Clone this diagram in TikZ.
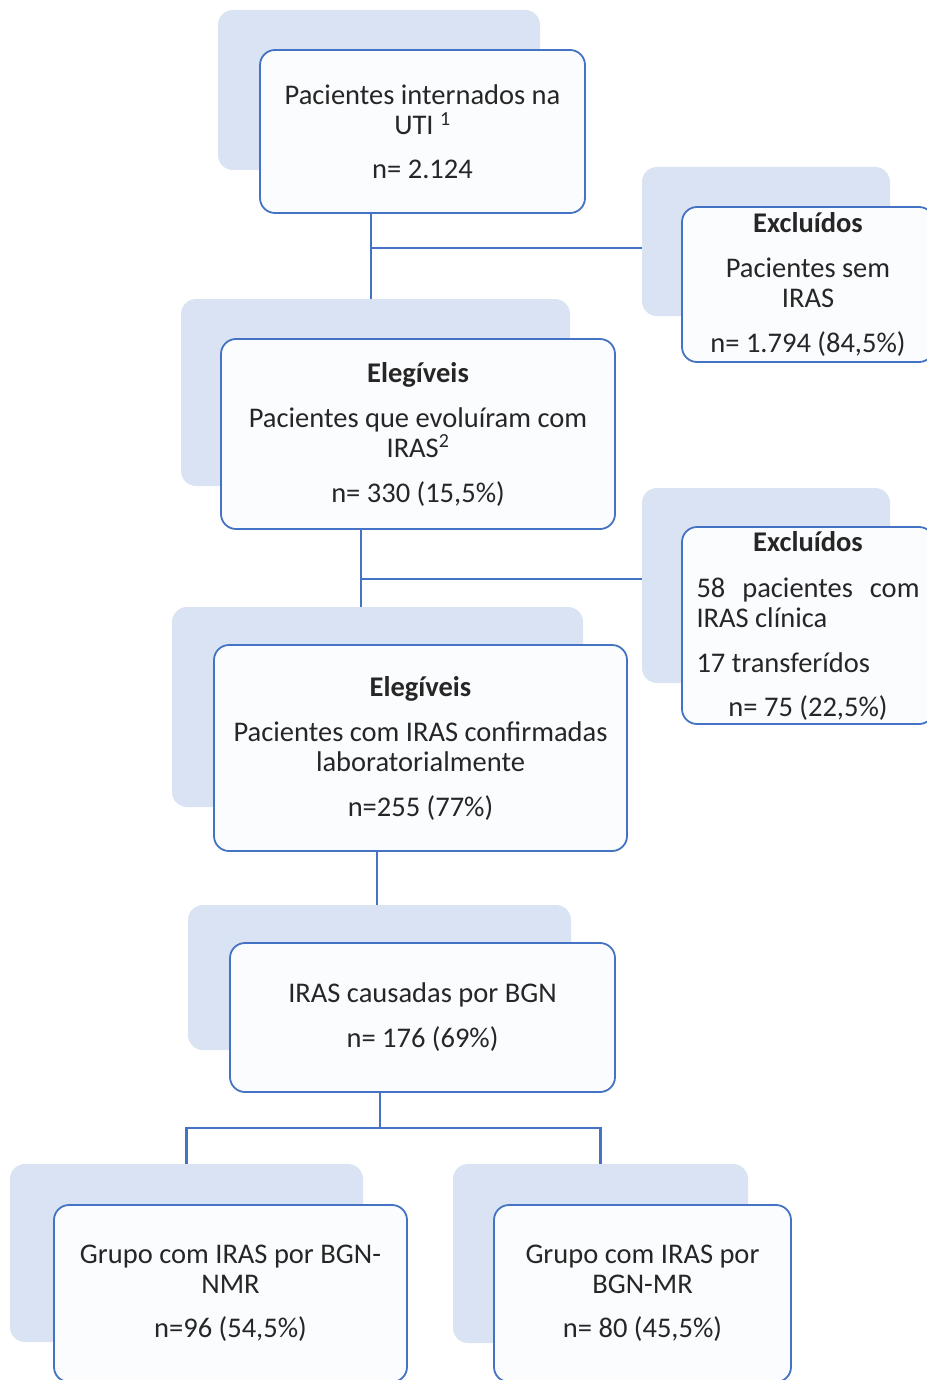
\documentclass[tikz,border=0pt]{standalone}
\usepackage{fontspec}
\setmainfont{Carlito}
\definecolor{boxline}{HTML}{4472C4}
\definecolor{boxshade}{HTML}{DAE3F3}
\definecolor{boxfill}{HTML}{FBFCFE}
\definecolor{boxtext}{HTML}{262626}

\begin{document}
\begin{tikzpicture}[x=1pt, y=-1pt,
    back/.style={fill=boxshade, rounded corners=15pt, inner sep=0pt},
    front/.style={draw=boxline, line width=1.8pt, fill=boxfill, rounded corners=15pt, inner sep=0pt, align=center, text=boxtext, font=\fontsize{28.5}{30}\selectfont},
    link/.style={draw=boxline, line width=2.5pt}
]
\useasboundingbox (0,0) rectangle (926,1380);

% Shaded backs
\node[back, minimum width=322, minimum height=160] (utibg) at (379,90) {};
\node[back, minimum width=248, minimum height=149] (exabg) at (766,241.5) {};
\node[back, minimum width=389, minimum height=187] (elegbg) at (375.5,392.5) {};
\node[back, minimum width=248, minimum height=195] (exbbg) at (766,585.5) {};
\node[back, minimum width=411, minimum height=200] (confbg) at (377.5,707) {};
\node[back, minimum width=383, minimum height=145] (bgnbg) at (379.5,977.5) {};
\node[back, minimum width=353, minimum height=178] (nmrbg) at (186.5,1253) {};
\node[back, minimum width=295, minimum height=179] (mrbg) at (600.5,1253.5) {};

% Main column
\node[front, minimum width=325, minimum height=163] (uti) at (422.5,131.5)
    {Pacientes internados na\\ UTI \textsuperscript{1}\\[14pt] n= 2.124};
\node[front, minimum width=394, minimum height=190] (eleg) at (418,434)
    {\bfseries Elegíveis\\[15pt] Pacientes que evoluíram com\\ IRAS\textsuperscript{2}\\[15pt] n= 330 (15,5\%)};
\node[front, minimum width=413, minimum height=206] (conf) at (420.5,748)
    {\bfseries Elegíveis\\[15pt] Pacientes com IRAS confirmadas\\ laboratorialmente\\[15pt] n=255 (77\%)};
\node[front, minimum width=385, minimum height=149] (bgn) at (422.5,1017.5)
    {IRAS causadas por BGN\\[15pt] n= 176 (69\%)};

% Exclusions on right
\node[front, minimum width=252, minimum height=155] (exa) at (808,284.5)
    {\bfseries Excluídos\\[15pt] Pacientes sem\\ IRAS\\[15pt] n= 1.794 (84,5\%)};
\node[front, align=left, minimum width=252, minimum height=197] (exb) at (808,625.5)
    {\makebox[223pt]{\bfseries Excluídos}\\[16pt]
     \makebox[223pt]{58\hfill pacientes\hfill com}\\
     IRAS clínica\\[15pt]
     17 transferídos\\[14pt]
     \makebox[223pt]{n= 75 (22,5\%)}};

% Groups at bottom
\node[front, minimum width=353, minimum height=177] (nmr) at (230.5,1293.5)
    {Grupo com IRAS por BGN-\\ NMR\\[14pt] n=96 (54,5\%)};
\node[front, minimum width=297, minimum height=177] (mr) at (642.5,1293.5)
    {Grupo com IRAS por\\ BGN-MR\\[14pt] n= 80 (45,5\%)};

% Connections
\coordinate (ja) at (371,248);
\coordinate (jb) at (361,579);
\coordinate (jc) at (377,880);
\coordinate (jd) at (380,1128);
\draw[link] (uti.south -| ja) -- (elegbg.north -| ja);
\draw[link] (ja) -- (exabg.west |- ja);
\draw[link] (eleg.south -| jb) -- (confbg.north -| jb);
\draw[link] (jb) -- (exbbg.west |- jb);
\draw[link] (conf.south -| jc) -- (bgnbg.north -| jc);
\draw[link] (bgn.south -| jd) -- (jd);
\draw[link] (nmrbg.north) |- (jd) -| (mrbg.north);
\end{tikzpicture}
\end{document}
